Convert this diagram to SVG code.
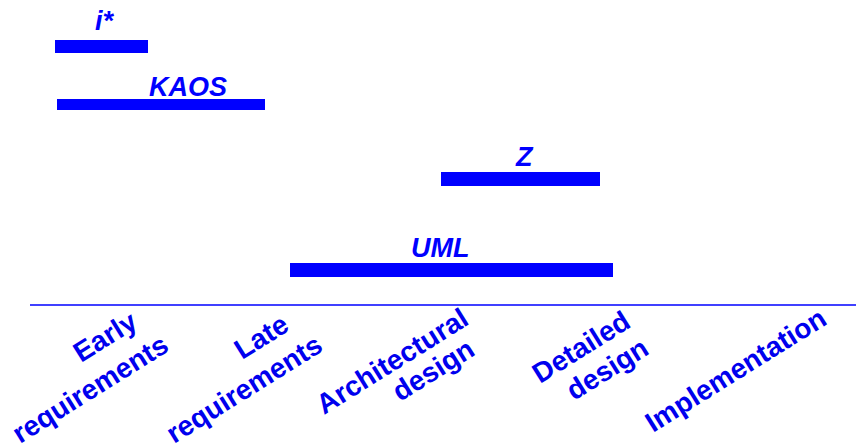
<svg xmlns="http://www.w3.org/2000/svg" width="856" height="448" viewBox="0 0 856 448">
<style>
.bar{fill:#0000FF}
.lbl{font-family:"Liberation Sans",Arial,sans-serif;font-weight:bold;font-style:italic;font-size:27px;fill:#0000FF}
.ax{font-family:"Liberation Sans",Arial,sans-serif;font-weight:bold;font-size:28px;fill:#0000EE}
</style>
<rect width="856" height="448" fill="#FFFFFF"/>
<g id="istar"><rect class="bar" x="55" y="40" width="93" height="13"/><text class="lbl" x="95" y="30">i*</text></g>
<g id="kaos"><rect class="bar" x="57" y="99" width="208" height="11"/><text class="lbl" x="149" y="96">KAOS</text></g>
<g id="z"><rect class="bar" x="441" y="172" width="159" height="14"/><text class="lbl" x="516" y="166">Z</text></g>
<g id="uml"><rect class="bar" x="290" y="263" width="323" height="14"/><text class="lbl" x="411" y="257">UML</text></g>
<g id="axis"><line x1="30" y1="305" x2="856" y2="305" stroke="#0000FF" stroke-width="1.5"/></g>
<g id="early"><text class="ax" transform="translate(81,363) rotate(-32)">Early</text><text class="ax" transform="translate(20,444) rotate(-32)">requirements</text></g>
<g id="late"><text class="ax" transform="translate(242,360) rotate(-32)">Late</text><text class="ax" transform="translate(174,444) rotate(-32)">requirements</text></g>
<g id="arch"><text class="ax" transform="translate(324,415) rotate(-32)">Architectural</text><text class="ax" transform="translate(400,402) rotate(-32)">design</text></g>
<g id="detailed"><text class="ax" transform="translate(540,384) rotate(-32)">Detailed</text><text class="ax" transform="translate(574,401) rotate(-32)">design</text></g>
<g id="impl"><text class="ax" transform="translate(653,433) rotate(-32)">Implementation</text></g>
</svg>
